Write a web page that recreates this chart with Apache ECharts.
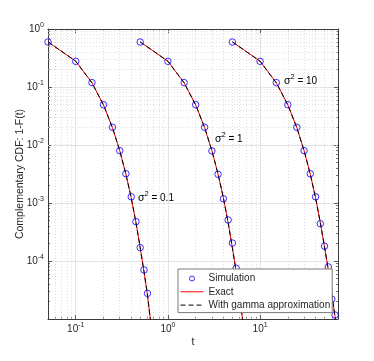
<!DOCTYPE html>
<html><head><meta charset="utf-8">
<script src="https://cdn.jsdelivr.net/npm/echarts@6/dist/echarts.min.js"></script>
<style>html,body{margin:0;padding:0;background:#fff}#c{width:374px;height:361px}</style>
</head><body><div id="c"></div>
<script>
// ---- Simulation markers ----
const simT_01 = [0.05,0.1,0.15,0.2,0.25,0.3,0.35,0.4,0.45,0.5,0.55,0.6];
const simY_01 = [0.597,0.277,0.119,0.0495,0.0202,0.00798,0.0032,0.00128,4.76e-4,1.7e-4,7.0e-5,2.77e-5];
const simT_1 = [0.5,1,1.5,2,2.5,3,3.5,4,4.5,5,5.5,6];
const simY_1 = [0.597,0.277,0.119,0.0495,0.0202,0.0079,0.00313,0.00118,5.1e-4,2.04e-4,7.5e-5,2.8e-5];
const simT_10 = [5,10,15,20,25,30,35,40,45,50,55,60,65];
const simY_10 = [0.597,0.277,0.119,0.0495,0.0202,0.00798,0.0032,0.00128,4.4e-4,1.8e-4,7.9e-5,2.2e-5,1.17e-5];
// ---- Exact curves ----
const lineT_01 = [0.05,0.1,0.15,0.2,0.25,0.3,0.35,0.4,0.45,0.5,0.55,0.6,0.65,0.7];
const exactY_01 = [0.6,0.278,0.118,0.049,0.02,0.008,0.00315,0.00122,4.6e-4,1.7e-4,6.6e-5,2.6e-5,8.8e-6,2.8e-6];
const lineT_1 = [0.5,1,1.5,2,2.5,3,3.5,4,4.5,5,5.5,6,6.5,7];
const exactY_1 = [0.6,0.278,0.118,0.049,0.02,0.008,0.00315,0.00122,4.6e-4,1.7e-4,6.6e-5,2.6e-5,8.8e-6,2.8e-6];
const lineT_10 = [5,10,15,20,25,30,35,40,45,50,55,60,65,70];
const exactY_10 = [0.6,0.278,0.118,0.049,0.02,0.008,0.00315,0.00122,4.6e-4,1.75e-4,7.0e-5,2.6e-5,1.1e-5,5e-6];
// ---- Gamma approximation curves ----
const gammaY_01 = [0.6,0.278,0.118,0.049,0.02,0.008,0.00315,0.00122,4.6e-4,1.7e-4,6.6e-5,2.6e-5,8.8e-6,2.8e-6];
const gammaY_1 = [0.6,0.278,0.118,0.049,0.02,0.008,0.00315,0.00122,4.6e-4,1.7e-4,6.6e-5,2.6e-5,8.8e-6,2.8e-6];
const gammaY_10 = [0.6,0.278,0.118,0.049,0.02,0.008,0.00315,0.00122,4.6e-4,1.75e-4,7.0e-5,2.6e-5,1.1e-5,5e-6];
// ---- Axes ----
const xRange = [0.05, 70];
const yRange = [1e-5, 1];
const minorX = [0.06,0.07,0.08,0.09,0.2,0.3,0.4,0.5,0.6,0.7,0.8,0.9,2,3,4,5,6,7,8,9,20,30,40,50,60];
const minorY = [];
[-5,-4,-3,-2,-1].forEach(e => { for (let k = 2; k <= 9; k++) minorY.push(k * Math.pow(10, e)); });
const legendNames = ['Simulation','Exact','With gamma approximation'];
const annotations = ['0.1','1','10'];

const FONT = 'Liberation Sans';
const TXT = '#262626';
const AX = '#3a3a3a';
const zip = (a, b) => a.map((v, i) => [v, b[i]]);

function powLabel(hideExp) {
  return function (v) {
    const e = Math.round(Math.log10(v));
    if (Math.abs(v / Math.pow(10, e) - 1) > 1e-6) return '';
    if (hideExp !== undefined && e === hideExp) return '';
    return '10{sup|' + e + '}';
  };
}
const labelRich = {
  sup: { fontSize: 7, fontFamily: FONT, color: TXT, padding: [0, 0, 7, 0] }
};

function mainX(pos, show) {
  return {
    type: 'log', logBase: 10, gridIndex: 0, position: pos, min: xRange[0], max: xRange[1],
    axisLine: { show: true, onZero: false, lineStyle: { color: AX, width: 1 } },
    axisTick: { show: true, inside: true, length: 4, lineStyle: { color: AX, width: 0.8 } },
    axisLabel: { show: show, margin: 3, fontFamily: FONT, fontSize: 10, color: TXT, formatter: powLabel(), rich: labelRich },
    splitLine: { show: show, lineStyle: { color: '#e4e4e4', width: 1 } },
    minorTick: { show: false }, minorSplitLine: { show: false },
    name: show ? 't' : '', nameLocation: 'middle', nameGap: 18, nameMoveOverlap: false,
    nameTextStyle: { fontFamily: FONT, fontSize: 10.5, color: TXT }
  };
}
function mainY(pos, show) {
  return {
    type: 'log', logBase: 10, gridIndex: 0, position: pos, min: yRange[0], max: yRange[1],
    axisLine: { show: true, onZero: false, lineStyle: { color: AX, width: 1 } },
    axisTick: { show: true, inside: true, length: 4, lineStyle: { color: AX, width: 0.8 } },
    axisLabel: { show: show, margin: 4, fontFamily: FONT, fontSize: 10, color: TXT, formatter: powLabel(-5), rich: labelRich },
    splitLine: { show: show, lineStyle: { color: '#e4e4e4', width: 1 } },
    minorTick: { show: false }, minorSplitLine: { show: false },
    name: show ? 'Complementary CDF: 1-F(t)' : '', nameLocation: 'middle', nameGap: 22, nameMoveOverlap: false,
    nameTextStyle: { fontFamily: FONT, fontSize: 10.5, color: TXT }
  };
}
function minorAxis(pos, vals, range) {
  return {
    type: 'log', logBase: 10, gridIndex: 1, position: pos, min: range[0], max: range[1],
    axisLine: { show: false },
    axisTick: { show: true, inside: true, length: 2, customValues: vals, lineStyle: { color: AX, width: 0.7 } },
    axisLabel: { show: false },
    splitLine: { show: false }
  };
}

const gridMinorStyle = { type: [1, 2], color: '#d6d6d6', width: 0.8 };
const markLines = [];
minorX.forEach(v => markLines.push({ xAxis: v }));
minorY.forEach(v => markLines.push({ yAxis: v }));

const series = [];
[[lineT_01, exactY_01], [lineT_1, exactY_1], [lineT_10, exactY_10]].forEach((p, i) => {
  const s = {
    name: 'Exact', type: 'line', xAxisIndex: 0, yAxisIndex: 0, data: zip(p[0], p[1]),
    symbol: 'none', clip: true, z: 3, animation: false,
    lineStyle: { color: '#ff0000', width: 1 }, itemStyle: { color: '#ff0000' }
  };
  if (i === 0) {
    s.markLine = {
      silent: true, symbol: ['none', 'none'], animation: false, z: 1,
      label: { show: false }, lineStyle: gridMinorStyle, emphasis: { disabled: true },
      data: markLines
    };
  }
  series.push(s);
});
[[lineT_01, gammaY_01], [lineT_1, gammaY_1], [lineT_10, gammaY_10]].forEach(p => {
  series.push({
    name: 'With gamma approximation', type: 'line', xAxisIndex: 0, yAxisIndex: 0, data: zip(p[0], p[1]),
    symbol: 'none', clip: true, z: 4, animation: false,
    lineStyle: { color: '#000000', width: 1, type: [5, 3] }, itemStyle: { color: '#000000' }
  });
});
[[simT_01, simY_01], [simT_1, simY_1], [simT_10, simY_10]].forEach(p => {
  series.push({
    name: 'Simulation', type: 'scatter', xAxisIndex: 0, yAxisIndex: 0, data: zip(p[0], p[1]),
    symbol: 'circle', symbolSize: 6.5, z: 5, animation: false,
    itemStyle: { color: 'rgba(0,0,0,0)', borderColor: '#0000ff', borderWidth: 1 }
  });
});

const hidden = { color: 'rgba(0,0,0,0)', borderColor: 'rgba(0,0,0,0)', borderWidth: 0 };
const annRich = {
  s: { fontFamily: FONT, fontSize: 10.5, color: TXT },
  sup: { fontFamily: FONT, fontSize: 7.5, color: TXT, padding: [0, 0, 8, 0] },
  t: { fontFamily: FONT, fontSize: 10, color: TXT }
};
function ann(val, x, y) {
  return { type: 'text', x: x, y: y, z: 10, silent: true,
    style: { text: '{s|σ}{sup|2}{t| = ' + val + '}', rich: annRich, verticalAlign: 'middle', align: 'left' } };
}

const chart = echarts.init(document.getElementById('c'), null, { renderer: 'canvas' });
chart.setOption({
  animation: false,
  backgroundColor: '#ffffff',
  grid: [
    { left: 48, top: 29, width: 290, height: 290, outerBoundsMode: 'none', containLabel: false },
    { left: 48, top: 29, width: 290, height: 290, outerBoundsMode: 'none', containLabel: false }
  ],
  xAxis: [
    mainX('bottom', true), mainX('top', false),
    minorAxis('bottom', minorX, xRange), minorAxis('top', minorX, xRange)
  ],
  yAxis: [
    mainY('left', true), mainY('right', false),
    minorAxis('left', minorY, yRange), minorAxis('right', minorY, yRange)
  ],
  legend: {
    orient: 'vertical', left: 178, top: 269, padding: [3, 2, 1, 2],
    itemWidth: 23, itemHeight: 5, itemGap: 0.3,
    backgroundColor: '#ffffff', borderColor: '#7a7a7a', borderWidth: 1, borderRadius: 0,
    textStyle: { fontFamily: FONT, fontSize: 10, color: TXT, lineHeight: 13 },
    selectedMode: false, z: 20,
    data: [
      { name: legendNames[0], icon: 'circle', itemStyle: { color: 'rgba(0,0,0,0)', borderColor: '#0000ff', borderWidth: 1 } },
      { name: legendNames[1], itemStyle: hidden, lineStyle: { color: '#ff0000', width: 1 } },
      { name: legendNames[2], itemStyle: hidden, lineStyle: { color: '#000000', width: 1, type: [5, 3] } }
    ]
  },
  graphic: [ann(annotations[0], 138, 198), ann(annotations[1], 215, 139), ann(annotations[2], 284, 81)],
  series: series
});
</script>
</body></html>
